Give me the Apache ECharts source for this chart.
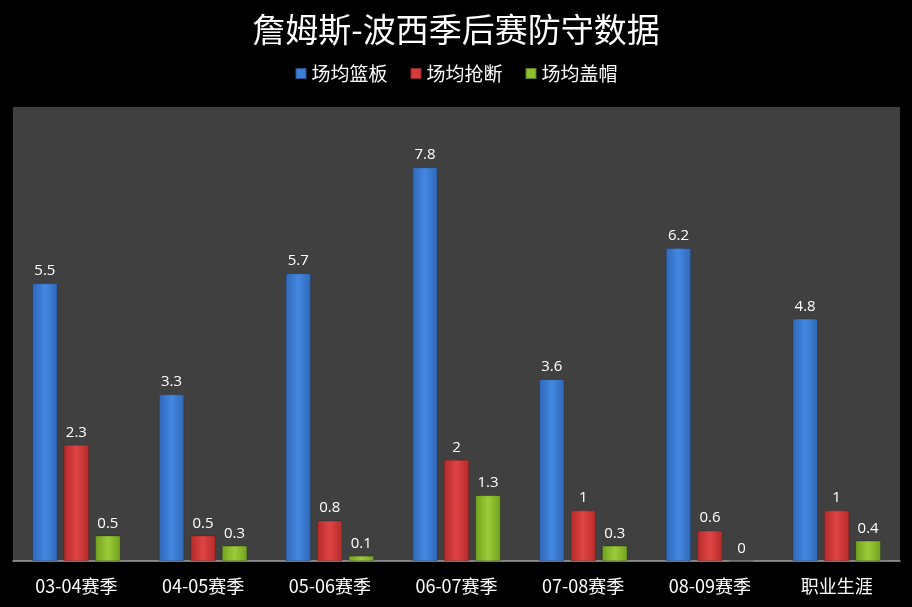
<!DOCTYPE html>
<html><head><meta charset="utf-8">
<script src="https://cdn.jsdelivr.net/npm/echarts@6/dist/echarts.min.js"></script>
<style>html,body{margin:0;padding:0;background:#000;}#c{width:912px;height:607px;}</style>
</head><body><div id="c"></div>
<script>
const categories = ['03-04赛季','04-05赛季','05-06赛季','06-07赛季','07-08赛季','08-09赛季','职业生涯'];
const rebounds = [5.5, 3.3, 5.7, 7.8, 3.6, 6.2, 4.8];
const steals = [2.3, 0.5, 0.8, 2, 1, 0.6, 1];
const blocks = [0.5, 0.3, 0.1, 1.3, 0.3, 0, 0.4];
const seriesNames = ['场均篮板','场均抢断','场均盖帽'];

function grad(edge, mid) {
  return new echarts.graphic.LinearGradient(0,0,1,0,[
    {offset:0,color:edge},{offset:0.5,color:mid},{offset:1,color:edge}
  ]);
}
const colors = [
  grad('#2f68b8','#4488e2'),
  grad('#b52a2a','#e04444'),
  grad('#72a21e','#9ccc38')
];
const legendColors = ['#3d7fd6','#d63c3c','#8dbf2e'];

const chart = echarts.init(document.getElementById('c'));
const mk = (name, data, i) => ({
  name, type:'bar', data,
  barWidth: 25, barGap: '26%',
  itemStyle:{color: colors[i], borderColor:'rgba(0,0,0,0.35)', borderWidth:0.5},
  label:{show:true, position:'top', distance:5, color:'#fff', fontSize:15, fontFamily:'Open Sans, Noto Sans, sans-serif'}
});
chart.setOption({
  backgroundColor:'#000',
  animation:false,
  color: legendColors,
  title:{text:'詹姆斯-波西季后赛防守数据', left:'center', top:8,
    textStyle:{color:'#fff', fontSize:33, fontWeight:'normal', fontFamily:'Noto Sans CJK SC'}},
  legend:{top:59, left:'center', itemWidth:11, itemHeight:11, itemGap:22,
    data: seriesNames.map((n,i)=>({name:n, icon:'rect', itemStyle:{color:legendColors[i]}})),
    textStyle:{color:'#fff', fontSize:19, fontFamily:'Noto Sans CJK SC'}},
  grid:{left:13, right:12, top:107, bottom:46, show:true, backgroundColor:'#404040', borderWidth:0},
  xAxis:{type:'category', data:categories,
    axisLine:{lineStyle:{color:'#a0a0a0', width:1.5}}, axisTick:{show:false},
    axisLabel:{color:'#fff', fontSize:18, margin:16, fontFamily:'Noto Sans CJK SC'}},
  yAxis:{type:'value', min:0, max:9, show:false, splitLine:{show:false}},
  series:[mk(seriesNames[0], rebounds, 0), mk(seriesNames[1], steals, 1), mk(seriesNames[2], blocks, 2)]
});
</script></body></html>
